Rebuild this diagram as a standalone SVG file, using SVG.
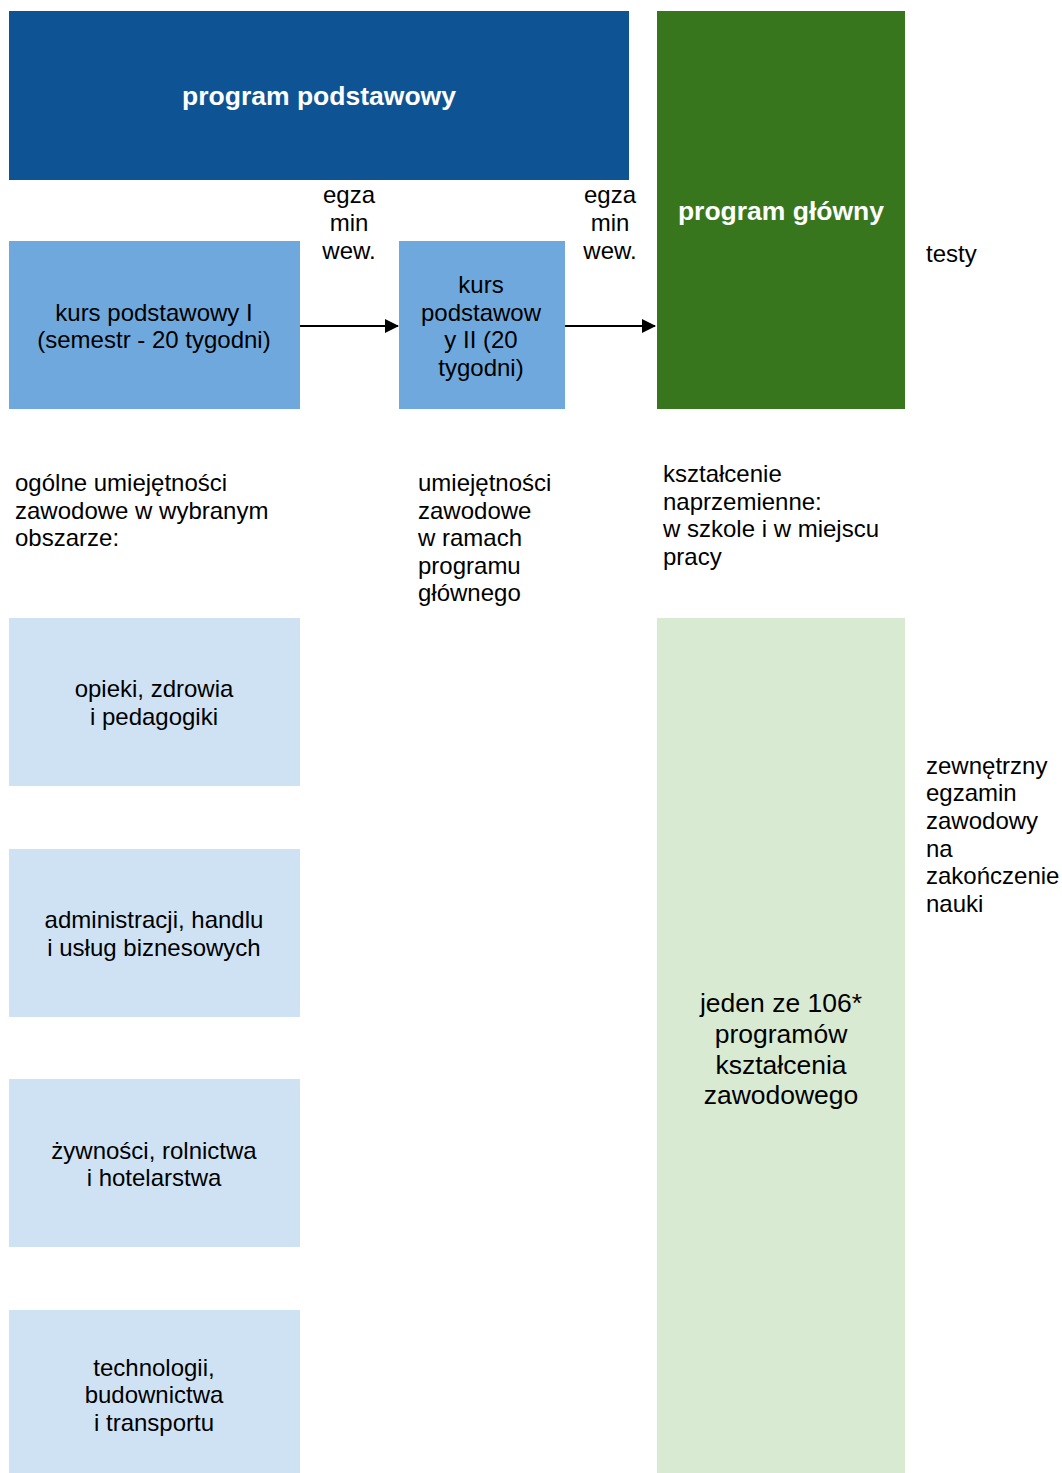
<svg xmlns="http://www.w3.org/2000/svg" width="1062" height="1473" viewBox="0 0 1062 1473">
<defs>
<style>
text{font-family:"Liberation Sans",Arial,sans-serif;font-size:24px;fill:#000}
.c{text-anchor:middle}
.t{font-weight:bold;font-size:26.5px;fill:#fff}
.big{font-size:26.5px}
.conn{stroke:#000;stroke-width:2;fill:none}
</style>
<marker id="ah" markerWidth="14" markerHeight="14" refX="13" refY="7" orient="auto" markerUnits="userSpaceOnUse">
<path d="M0,0 L14,7 L0,14 z" fill="#000"/>
</marker>
</defs>
<rect width="1062" height="1473" fill="#fff"/>
<g id="program-podstawowy">
<rect x="9" y="11" width="620" height="169" fill="#0e5394"/>
<text class="t c" x="319" y="105">program podstawowy</text>
</g>
<g id="program-glowny">
<rect x="657" y="11" width="248" height="398" fill="#38761d"/>
<text class="t c" x="781" y="220">program główny</text>
</g>
<g id="kurs1">
<rect x="9" y="241" width="291" height="168" fill="#6fa8dc"/>
<text class="c" x="154" y="321">kurs podstawowy I</text>
<text class="c" x="154" y="348">(semestr - 20 tygodni)</text>
</g>
<g id="kurs2">
<rect x="399" y="241" width="166" height="168" fill="#6fa8dc"/>
<text class="c" x="481" y="293">kurs</text>
<text class="c" x="481" y="321">podstawow</text>
<text class="c" x="481" y="348">y II (20</text>
<text class="c" x="481" y="376">tygodni)</text>
</g>
<g id="egzamin1">
<text class="c" x="349" y="203">egza</text>
<text class="c" x="349" y="231">min</text>
<text class="c" x="349" y="259">wew.</text>
</g>
<g id="egzamin2">
<text class="c" x="610" y="203">egza</text>
<text class="c" x="610" y="231">min</text>
<text class="c" x="610" y="259">wew.</text>
</g>
<g id="testy">
<text x="926" y="262">testy</text>
</g>
<g id="ogolne">
<text x="15" y="491">ogólne umiejętności</text>
<text x="15" y="519">zawodowe w wybranym</text>
<text x="15" y="546">obszarze:</text>
</g>
<g id="umiejetnosci">
<text x="418" y="491">umiejętności</text>
<text x="418" y="519">zawodowe</text>
<text x="418" y="546">w ramach</text>
<text x="418" y="574">programu</text>
<text x="418" y="601">głównego</text>
</g>
<g id="ksztalcenie">
<text x="663" y="482">kształcenie</text>
<text x="663" y="510">naprzemienne:</text>
<text x="663" y="537">w szkole i w miejscu</text>
<text x="663" y="565">pracy</text>
</g>
<g id="opieki">
<rect x="9" y="618" width="291" height="168" fill="#cfe2f3"/>
<text class="c" x="154" y="697">opieki, zdrowia</text>
<text class="c" x="154" y="725">i pedagogiki</text>
</g>
<g id="administracji">
<rect x="9" y="849" width="291" height="168" fill="#cfe2f3"/>
<text class="c" x="154" y="928">administracji, handlu</text>
<text class="c" x="154" y="956">i usług biznesowych</text>
</g>
<g id="zywnosci">
<rect x="9" y="1079" width="291" height="168" fill="#cfe2f3"/>
<text class="c" x="154" y="1159">żywności, rolnictwa</text>
<text class="c" x="154" y="1186">i hotelarstwa</text>
</g>
<g id="technologii">
<rect x="9" y="1310" width="291" height="163" fill="#cfe2f3"/>
<text class="c" x="154" y="1376">technologii,</text>
<text class="c" x="154" y="1403">budownictwa</text>
<text class="c" x="154" y="1431">i transportu</text>
</g>
<g id="jeden">
<rect x="657" y="618" width="248" height="855" fill="#d9ead3"/>
<text class="c big" x="781" y="1012">jeden ze 106*</text>
<text class="c big" x="781" y="1043">programów</text>
<text class="c big" x="781" y="1074">kształcenia</text>
<text class="c big" x="781" y="1104">zawodowego</text>
</g>
<g id="zewnetrzny">
<text x="926" y="774">zewnętrzny</text>
<text x="926" y="801">egzamin</text>
<text x="926" y="829">zawodowy</text>
<text x="926" y="857">na</text>
<text x="926" y="884">zakończenie</text>
<text x="926" y="912">nauki</text>
</g>
<g id="connectors">
<line class="conn" x1="300" y1="326" x2="398" y2="326" marker-end="url(#ah)"/>
<line class="conn" x1="565" y1="326" x2="655" y2="326" marker-end="url(#ah)"/>
</g>
</svg>
